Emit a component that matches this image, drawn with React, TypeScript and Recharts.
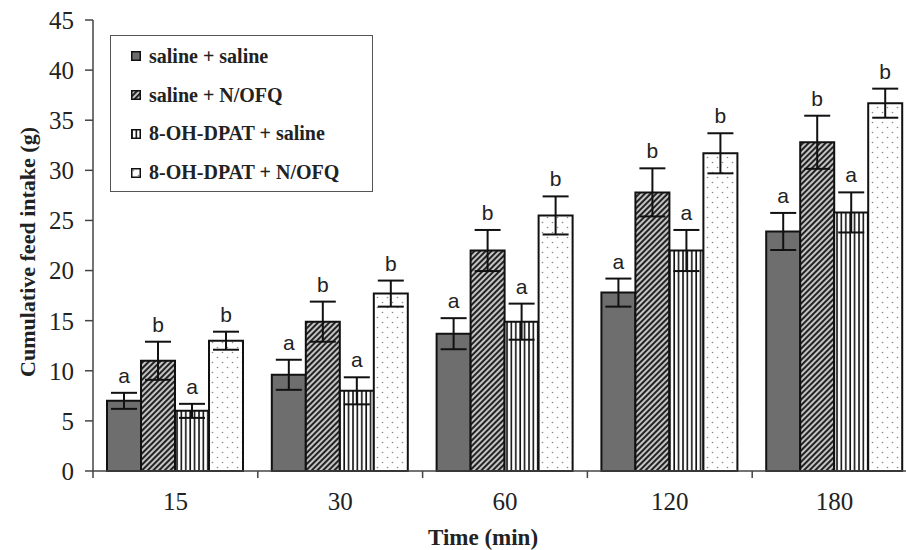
import {
  BarChart,
  Bar,
  XAxis,
  YAxis,
  ErrorBar,
  LabelList,
} from "recharts";

const times = ["15", "30", "60", "120", "180"];
const seriesNames = [
  "saline + saline",
  "saline + N/OFQ",
  "8-OH-DPAT + saline",
  "8-OH-DPAT + N/OFQ",
];

const salineSaline = [7, 9.6, 13.7, 17.8, 23.9];
const salineSalineErr = [0.8, 1.5, 1.55, 1.4, 1.85];
const salineSalineLetters = ["a", "a", "a", "a", "a"];

const salineNofq = [11, 14.9, 22, 27.8, 32.8];
const salineNofqErr = [1.9, 2.0, 2.05, 2.4, 2.65];
const salineNofqLetters = ["b", "b", "b", "b", "b"];

const dpatSaline = [6, 8, 14.9, 22, 25.8];
const dpatSalineErr = [0.7, 1.35, 1.8, 2.05, 2.0];
const dpatSalineLetters = ["a", "a", "a", "a", "a"];

const dpatNofq = [13, 17.7, 25.5, 31.7, 36.7];
const dpatNofqErr = [0.9, 1.3, 1.9, 2.0, 1.45];
const dpatNofqLetters = ["b", "b", "b", "b", "b"];

const yTicks = [0, 5, 10, 15, 20, 25, 30, 35, 40, 45];

const data = times.map((t, i) => ({
  time: t,
  s0: salineSaline[i],
  e0: salineSalineErr[i],
  s1: salineNofq[i],
  e1: salineNofqErr[i],
  s2: dpatSaline[i],
  e2: dpatSalineErr[i],
  s3: dpatNofq[i],
  e3: dpatNofqErr[i],
}));

// layout
const W = 930;
const H = 550;
const TOP = 20;
const BOTTOM = 471;
const LEFT = 93;
const RIGHT = 917;
const BAND = (RIGHT - LEFT) / times.length;
const PX = (BOTTOM - TOP) / 45;

const serif = "'Liberation Serif', 'Times New Roman', serif";
const sans = "'Liberation Sans', Arial, sans-serif";
const ink = "#222";

const fills = ["#6e6e6e", "url(#diag)", "url(#vert)", "url(#dots)"];

const letterLabel = (letters: string[], errs: number[]) => (props: any) => {
  const { x, y, width, index } = props;
  const top = Number(y) - errs[index] * PX;
  return (
    <text
      x={Number(x) + Number(width) / 2}
      y={top - 10}
      textAnchor="middle"
      fontFamily={sans}
      fontSize={21}
      fill={ink}
    >
      {letters[index]}
    </text>
  );
};

const TimeTick = (props: any) => {
  const { x, payload } = props;
  return (
    <g>
      <line x1={x - BAND / 2} x2={x - BAND / 2} y1={BOTTOM} y2={BOTTOM + 7} stroke="#444" strokeWidth={1.5} />
      <text x={x} y={501} textAnchor="middle" dominantBaseline="central" fontFamily={serif} fontSize={25} fill={ink}>
        {payload.value}
      </text>
    </g>
  );
};

// legend box drawn over the plot, top-left
const LegendBox = () => (
  <div
    style={{
      position: "absolute",
      left: 110,
      top: 35,
      border: "1.5px solid #555",
      background: "#fff",
      width: 263,
      height: 157,
      boxSizing: "border-box",
      padding: "1px 0 0 20px",
    }}
  >
    {seriesNames.map((name, i) => (
      <div key={name} style={{ display: "flex", alignItems: "center", height: 38.8 }}>
        <svg width={10} height={10} style={{ marginRight: 8 }}>
          <rect x={0.75} y={0.75} width={8.5} height={8.5} fill={fills[i]} stroke="#111" strokeWidth={1.5} />
        </svg>
        <span style={{ fontFamily: serif, fontSize: 20, fontWeight: "bold", color: "#222", whiteSpace: "nowrap" }}>
          {name}
        </span>
      </div>
    ))}
  </div>
);

export default function App() {
  const series = [
    { key: "s0", err: "e0", letters: salineSalineLetters, errs: salineSalineErr },
    { key: "s1", err: "e1", letters: salineNofqLetters, errs: salineNofqErr },
    { key: "s2", err: "e2", letters: dpatSalineLetters, errs: dpatSalineErr },
    { key: "s3", err: "e3", letters: dpatNofqLetters, errs: dpatNofqErr },
  ];

  return (
    <div style={{ position: "absolute", left: 0, top: 0, width: 906, height: 550, overflow: "hidden", background: "#fff" }}>
      <BarChart
        width={W}
        height={H}
        data={data}
        margin={{ top: TOP, right: W - RIGHT, left: 0, bottom: H - BOTTOM - 40 }}
        barCategoryGap="8.5%"
        barGap={0}
      >
        <defs>
          <pattern id="diag" patternUnits="userSpaceOnUse" width={4} height={4} patternTransform="rotate(45)">
            <rect width={4} height={4} fill="#c4c4c4" />
            <line x1={1} y1={0} x2={1} y2={4} stroke="#1a1a1a" strokeWidth={1.9} />
          </pattern>
          <pattern id="vert" patternUnits="userSpaceOnUse" width={4.4} height={10}>
            <rect width={4.4} height={10} fill="#fff" />
            <line x1={1} y1={0} x2={1} y2={10} stroke="#111" strokeWidth={1.6} />
          </pattern>
          <pattern id="dots" patternUnits="userSpaceOnUse" width={10} height={10}>
            <rect width={10} height={10} fill="#fff" />
            <circle cx={2.5} cy={2.5} r={0.8} fill="#888" />
            <circle cx={7.5} cy={7.5} r={0.8} fill="#888" />
          </pattern>
        </defs>
        <XAxis
          dataKey="time"
          height={40}
          tickLine={false}
          axisLine={{ stroke: "#444", strokeWidth: 1.5 }}
          tick={<TimeTick />}
          interval={0}
          label={{
            content: () => (
              <text x={483} y={537} textAnchor="middle" dominantBaseline="central" fontFamily={serif} fontSize={23} fontWeight="bold" fill={ink}>
                Time (min)
              </text>
            ),
          }}
        />
        <YAxis
          width={LEFT}
          domain={[0, 45]}
          ticks={yTicks}
          interval={0}
          tickSize={8}
          tickMargin={11}
          tickLine={{ stroke: "#444", strokeWidth: 1.5 }}
          axisLine={{ stroke: "#444", strokeWidth: 1.5 }}
          tick={{ fontFamily: serif, fontSize: 25, fill: ink }}
          label={{
            content: () => (
              <text
                transform="translate(27, 252) rotate(-90)"
                textAnchor="middle"
                dominantBaseline="central"
                fontFamily={serif}
                fontSize={22}
                fontWeight="bold"
                fill={ink}
              >
                Cumulative feed intake (g)
              </text>
            ),
          }}
        />
        {series.map((s, i) => (
          <Bar
            key={s.key}
            dataKey={s.key}
            name={seriesNames[i]}
            fill={fills[i]}
            stroke="#111"
            strokeWidth={2}
            isAnimationActive={false}
          >
            <ErrorBar dataKey={s.err} width={13} stroke="#111" strokeWidth={2} direction="y" />
            <LabelList dataKey={s.key} content={letterLabel(s.letters, s.errs)} />
          </Bar>
        ))}
      </BarChart>
      <LegendBox />
    </div>
  );
}
